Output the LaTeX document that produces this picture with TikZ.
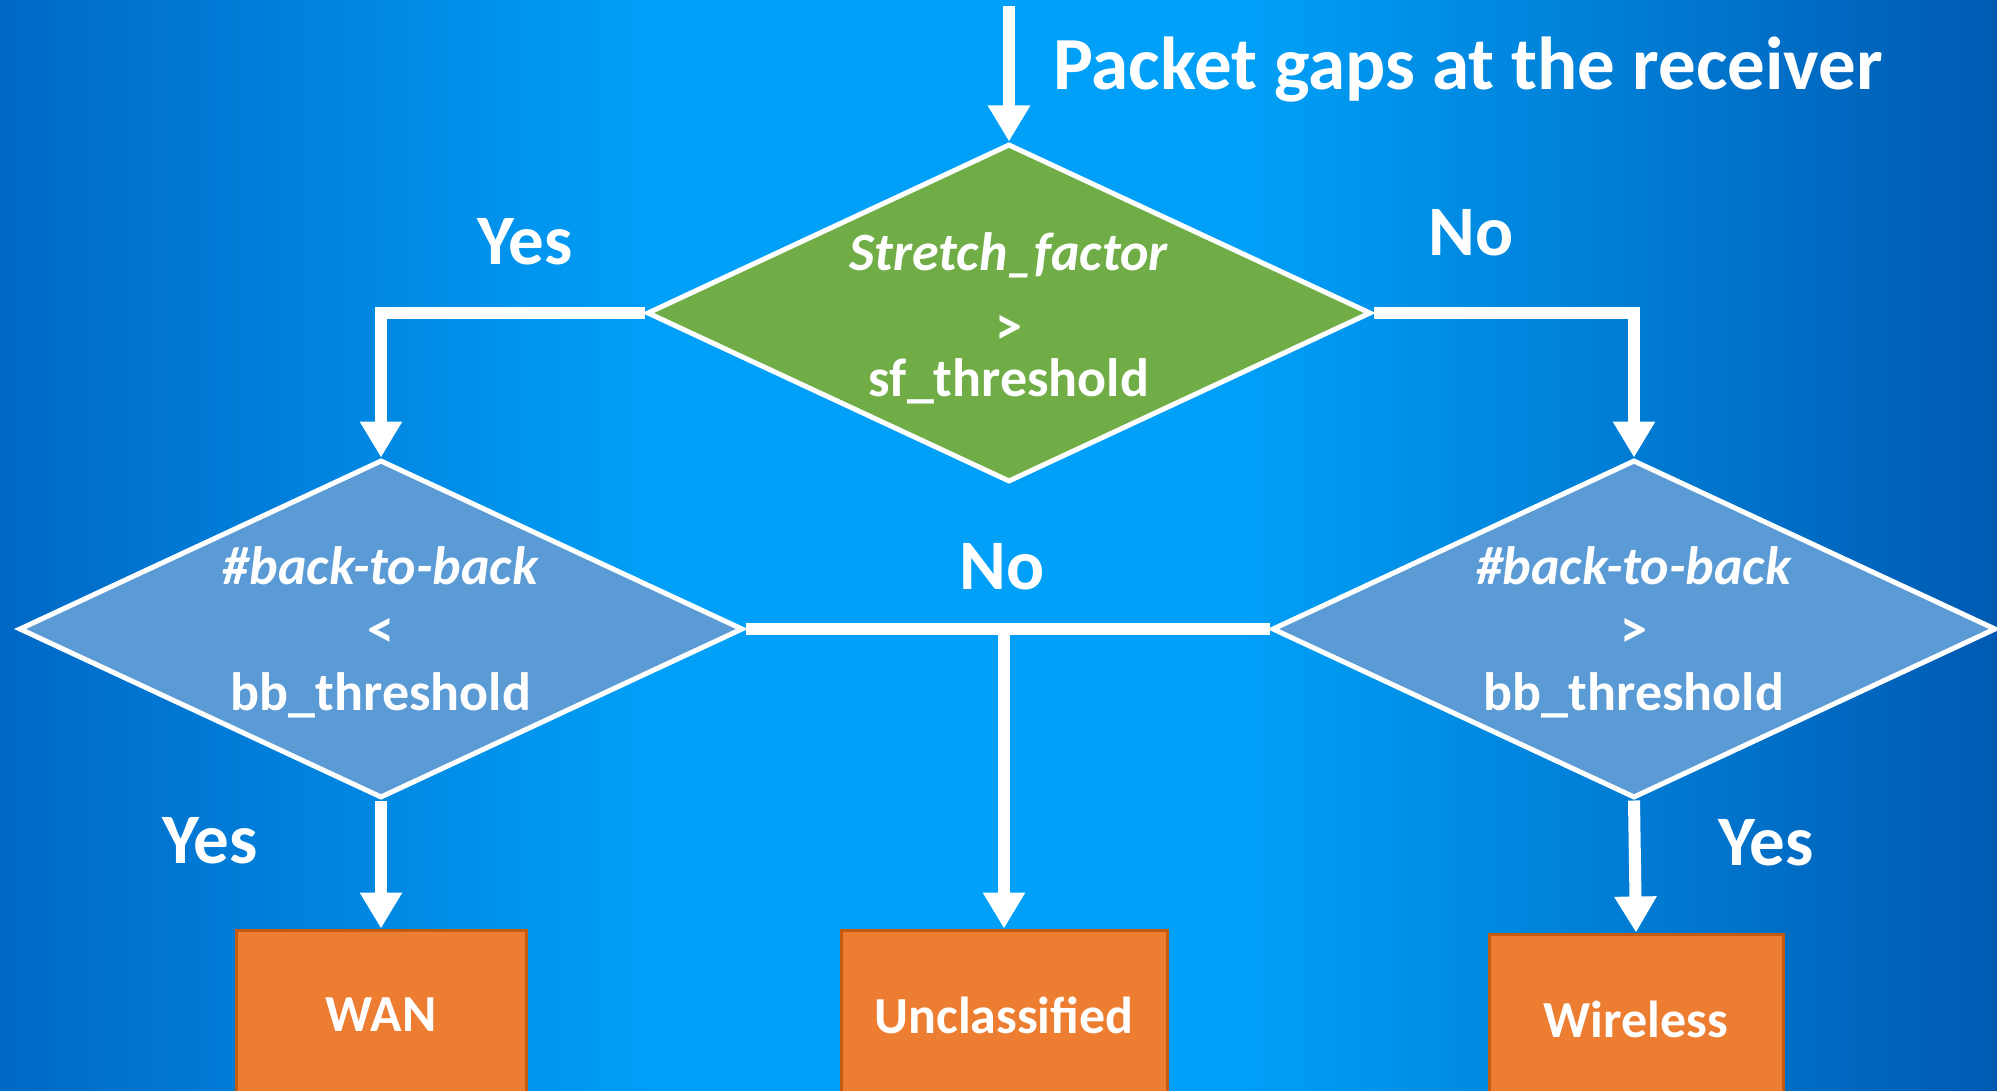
\documentclass[tikz,border=0pt]{standalone}
\usepackage{fontspec}
\setmainfont{Carlito}
\usetikzlibrary{arrows.meta,shapes.geometric}
\definecolor{bgL}{RGB}{0,104,197}
\definecolor{bgM}{RGB}{0,160,248}
\definecolor{bgR}{RGB}{0,90,178}
\definecolor{dgreen}{RGB}{112,173,71}
\definecolor{dblue}{RGB}{91,155,213}
\definecolor{borange}{RGB}{237,125,49}
\definecolor{bline}{RGB}{197,90,17}
\begin{document}
\begin{tikzpicture}[x=1pt,y=-1pt,
  decision/.style={diamond, draw=white, line width=5pt, minimum width=724pt, minimum height=338pt, inner sep=0pt},
  dtext/.style={font=\fontsize{54}{63}\selectfont\bfseries, text=white, align=center, inner sep=0pt},
  outbox/.style={draw=bline, line width=3pt, fill=borange, text=white, font=\fontsize{52}{60}\selectfont\bfseries, minimum height=170pt, inner sep=0pt},
  lab/.style={font=\fontsize{71}{80}\selectfont\bfseries, text=white, inner sep=0pt},
  wire/.style={draw=white, line width=12pt, line join=miter},
  conn/.style={wire, -{Triangle[length=36pt,width=40pt]}}
]
\useasboundingbox (0,0) rectangle (1997,1091);
\clip (0,0) rectangle (1997,1091);
% background
\fill[left color=bgL, right color=bgM] (0,0) rectangle (661,1091);
\fill[bgM] (660,0) rectangle (1241,1091);
\fill[left color=bgM, right color=bgR] (1240,0) rectangle (1997,1091);

% nodes
\node[decision, fill=dgreen] (d0) at (1009,313) {};
\node[decision, fill=dblue] (d1) at (381,629) {};
\node[decision, fill=dblue] (d2) at (1634,629) {};
\node[dtext] (d0t) at (1009,318) {\textit{Stretch\_factor}\\\raisebox{-11pt}{>}\\sf\_threshold};
\node[dtext] (d1t) at (381,632) {\textit{\#back-to-back}\\<\\bb\_threshold};
\node[dtext] (d2t) at (1634,632) {\textit{\#back-to-back}\\>\\bb\_threshold};

\node[outbox, minimum width=290pt] (wan) at (381,1015) {WAN};
\node[outbox, minimum width=326pt] (unc) at (1004,1015) {Unclassified};
\node[outbox, minimum width=294pt] (wls) at (1636,1019) {Wireless};

\node[lab, font=\fontsize{75}{84}\selectfont\bfseries, anchor=base west] (title) at (1053,90) {Packet gaps at the receiver};
\node[lab] (yes1) at (525,242) {Yes};
\node[lab] (no1) at (1471,233) {No};
\node[lab] (no2) at (1002,567) {No};
\node[lab] (yes2) at (210,841) {Yes};
\node[lab] (yes3) at (1766,843) {Yes};

% connectors
\coordinate (start) at (1009,6);
\draw[conn] (start) -- (d0.north);
\draw[conn] (d0.west) -| (d1.north);
\draw[conn] (d0.east) -| (d2.north);
\draw[wire] (d1.east) -- (d2.west);
\coordinate (mid) at (d1.east -| unc.north);
\draw[conn] (mid) -- (unc.north);
\draw[conn] (d1.south) -- (wan.north);
\draw[conn] (d2.south) -- (wls.north);
\end{tikzpicture}
\end{document}
